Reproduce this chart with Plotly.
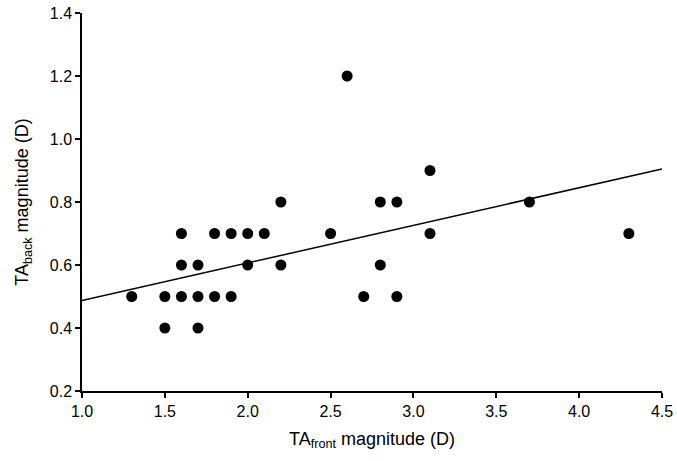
import plotly.graph_objects as go

ta_front = [1.3, 1.5, 1.5, 1.6, 1.6, 1.6, 1.7, 1.7, 1.7, 1.8, 1.8, 1.9, 1.9, 2.0, 2.0,
            2.1, 2.2, 2.2, 2.5, 2.6, 2.7, 2.8, 2.8, 2.9, 2.9, 3.1, 3.1, 3.7, 4.3]
ta_back = [0.5, 0.5, 0.4, 0.7, 0.6, 0.5, 0.6, 0.5, 0.4, 0.7, 0.5, 0.7, 0.5, 0.7, 0.6,
           0.7, 0.8, 0.6, 0.7, 1.2, 0.5, 0.8, 0.6, 0.8, 0.5, 0.9, 0.7, 0.8, 0.7]
# regression line end values
fit_x = [1.0, 4.5]
fit_y = [0.487, 0.905]
x_ticks = [1.0, 1.5, 2.0, 2.5, 3.0, 3.5, 4.0, 4.5]
y_ticks = [0.2, 0.4, 0.6, 0.8, 1.0, 1.2, 1.4]

fig = go.Figure()
fig.add_trace(go.Scatter(x=fit_x, y=fit_y, mode="lines",
                         line=dict(color="black", width=1.5), showlegend=False))
fig.add_trace(go.Scatter(x=ta_front, y=ta_back, mode="markers",
                         marker=dict(color="black", size=11), showlegend=False))

font = "Liberation Sans, Arial, sans-serif"
axis_common = dict(showgrid=False, zeroline=False, showline=True, linecolor="black",
                   linewidth=1.5, ticks="outside", ticklen=5, tickwidth=1.5,
                   tickcolor="black", tickfont=dict(size=16), ticklabeloverflow="allow",
                   automargin=False)
fig.update_layout(
    width=677, height=461,
    margin=dict(l=82, r=15, t=13, b=70),
    paper_bgcolor="white", plot_bgcolor="white",
    font=dict(family=font, color="black", size=16),
    xaxis=dict(range=[1.0, 4.5], tickvals=x_ticks, ticktext=[f"{v:.1f}" for v in x_ticks],
               title=dict(text="TA<sub>front</sub> magnitude (D)", font=dict(size=18), standoff=13),
               **axis_common),
    yaxis=dict(range=[0.2, 1.4], tickvals=y_ticks, ticktext=[f"{v:.1f}" for v in y_ticks],
               title=dict(text="TA<sub>back</sub> magnitude (D)", font=dict(size=18), standoff=16),
               **axis_common),
)
fig.write_html("out.html", config={"displayModeBar": False},
               post_script="document.body.style.margin='0';document.body.style.overflow='hidden';")
